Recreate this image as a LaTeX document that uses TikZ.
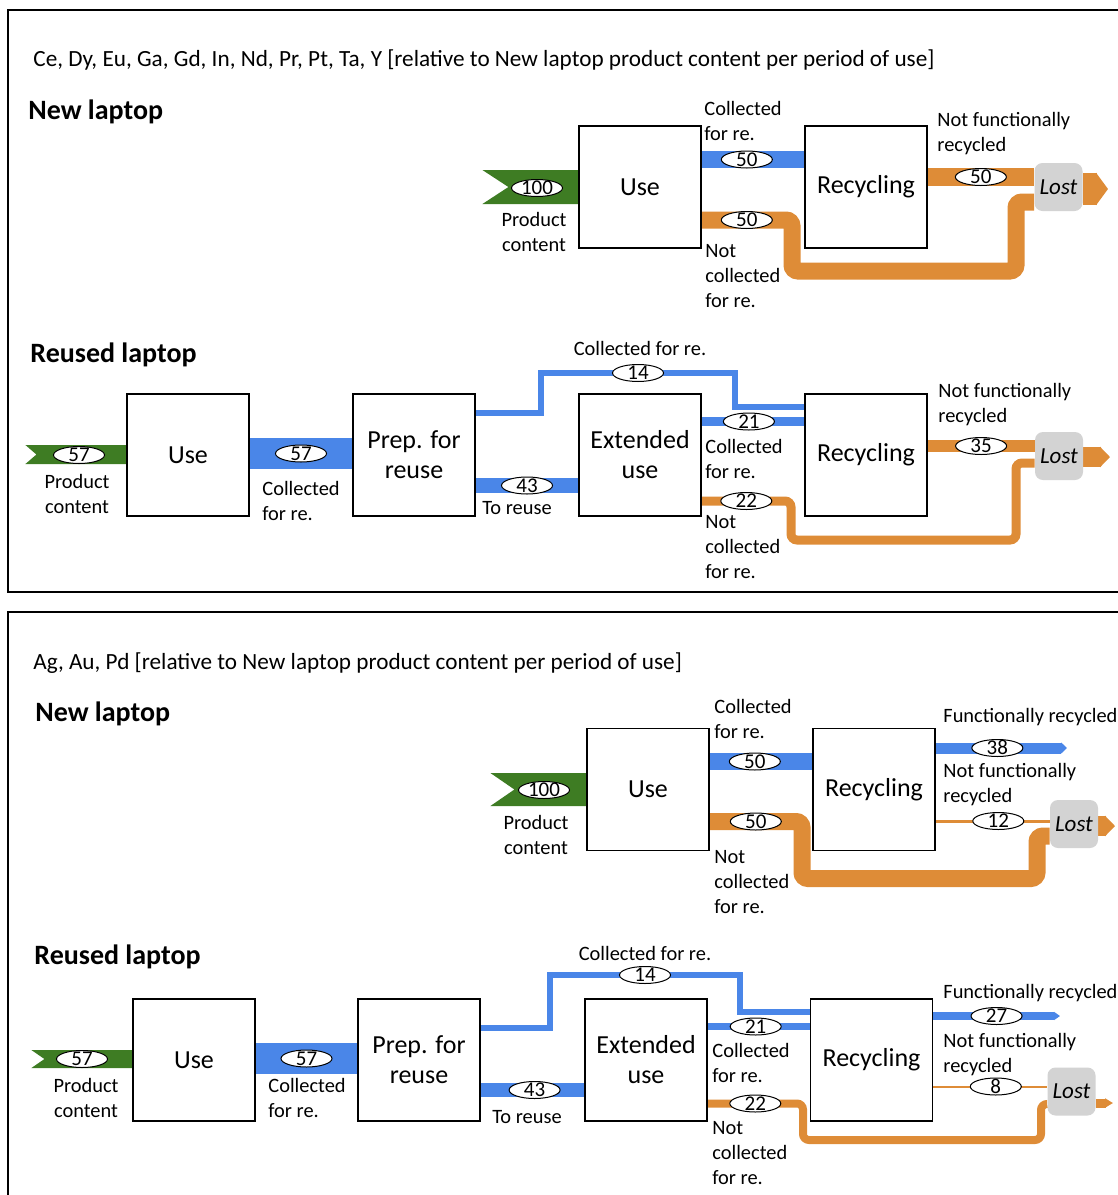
\documentclass[tikz,border=0pt]{standalone}
\usepackage{fontspec}
\setmainfont{Carlito}
\usepackage{xcolor}
\usepackage{tikz}
\usetikzlibrary{shapes.geometric, arrows.meta, backgrounds}
\definecolor{FlowGreen}{RGB}{62,124,35}
\definecolor{FlowBlue}{RGB}{74,134,232}
\definecolor{FlowOrange}{RGB}{222,140,55}
\definecolor{LostGray}{RGB}{211,211,211}
\tikzset{
    % Process (square box)
    process/.style={rectangle, draw=black, line width=0.6pt, fill=white,
        minimum width=61pt, minimum height=61pt, align=center,
        font=\fontsize{13}{15}\selectfont},
    % Lost sink (grey rounded box)
    lostbox/.style={rectangle, rounded corners=4pt, fill=LostGray,
        minimum width=24pt, minimum height=24pt, inner sep=0pt,
        font=\fontsize{11.5}{13}\selectfont\itshape},
    % Flow value (small ellipse)
    num/.style={ellipse, draw=black, line width=0.5pt, fill=white,
        minimum width=25.5pt, minimum height=8.5pt, inner xsep=0pt, inner ysep=-1.5pt,
        text height=6.6pt, text depth=0pt, font=\fontsize{10.5}{12}\selectfont},
    % Flow label
    flowlabel/.style={inner sep=0pt, align=left, font=\fontsize{10.2}{12.5}\selectfont},
    % Section heading
    heading/.style={inner sep=0pt, anchor=west, font=\fontsize{14}{16}\selectfont\bfseries},
    % Panel title line
    paneltitle/.style={inner sep=0pt, anchor=west, font=\fontsize{11.6}{13}\selectfont},
    % Flows
    inflow/.style={fill=FlowGreen},
    blueflow/.style={draw=FlowBlue},
    orangeflow/.style={draw=FlowOrange, rounded corners=3pt},
    panel/.style={draw=black, line width=1pt},
}

\begin{document}
\begin{tikzpicture}[x=0.5pt, y=-0.5pt]
    \useasboundingbox (0,0) rectangle (1118,1195);
    \clip (0,0) rectangle (1118,1195);

    % Panel frames
    \draw[panel] (8,10) rectangle (1140,592);
    \draw[panel] (8,612) rectangle (1140,1220);

    %%%%%%%% Panel 1: Ce, Dy, ...
    \node[paneltitle] (title1) at (33,60) {Ce, Dy, Eu, Ga, Gd, In, Nd, Pr, Pt, Ta, Y [relative to New laptop product content per period of use]};
    \node[heading] (new1) at (28,112) {New laptop};
    \node[heading] (reu1) at (30,355) {Reused laptop};

    % New laptop
    \node[process] (use1) at (640,187) {Use};
    \node[process] (recy1) at (866,187) {Recycling};
    \node[lostbox] (lost1) at (1058.5,187) {Lost};
    \begin{scope}[on background layer]
        \fill[inflow] (use1.west) ++(0,-17) -- ++(-96,0) -- ++(26,17) -- ++(-26,17) -- ++(96,0) -- cycle;
        \draw[blueflow, line width=8.5pt] (use1.east |- 0,159.5) -- node[num, pos=0.44] (v1a) {50} (recy1.west |- 0,159.5);
        \draw[orangeflow, line width=8.5pt] (use1.east |- 0,220) -- node[num] (v1b) {50} (792,220) -- (792,271) -- (1016,271) -- (1016,202) -- (lost1.west |- 0,202);
        \draw[orangeflow, line width=9pt] (recy1.east |- 0,177) -- node[num] (v1c) {50} (lost1.west |- 0,177);
        \draw[orangeflow, line width=16pt, -{Triangle[length=6pt, width=16pt]}] (lost1.east |- 0,189) -- (1108,189);
    \end{scope}
    \node[num] (v1in) at (537,188) {100};
    \node[flowlabel, align=center] (lb1a) at (534,231.5) {Product\\content};
    \node[flowlabel, anchor=west] (lb1b) at (704,120.5) {Collected\\for re.};
    \node[flowlabel, anchor=west] (lb1c) at (705,276) {Not\\collected\\for re.};
    \node[flowlabel, anchor=west] (lb1d) at (937,134) {Not functionally\\recycled};

    % Reused laptop
    \node[process] (use2) at (188,455) {Use};
    \node[process] (prep2) at (414,455) {Prep. for\\reuse};
    \node[process] (ext2) at (640,455) {Extended\\use};
    \node[process] (recy2) at (866,455) {Recycling};
    \node[lostbox] (lost2) at (1059,456) {Lost};
    \begin{scope}[on background layer]
        \fill[inflow] (use2.west |- 0,454.5) ++(0,-9.5) -- ++(-101,0) -- ++(11,9.5) -- ++(-11,9.5) -- ++(101,0) -- cycle;
        \draw[blueflow, line width=15.5pt] (use2.east |- 0,453.5) -- node[num] (v2b) {57} (prep2.west |- 0,453.5);
        \draw[blueflow, line width=3pt] (prep2.east |- 0,413) -- (541,413) -- (541,373) -- node[num] (v2c) {14} (735,373) -- (735,407) -- (recy2.west |- 0,407);
        \draw[blueflow, line width=7.5pt] (prep2.east |- 0,485.5) -- node[num] (v2d) {43} (ext2.west |- 0,485.5);
        \draw[blueflow, line width=4.5pt] (ext2.east |- 0,421.5) -- node[num, pos=0.46] (v2e) {21} (recy2.west |- 0,421.5);
        \draw[orangeflow, line width=4.5pt] (ext2.east |- 0,501) -- node[num] (v2f) {22} (791,501) -- (791,540) -- (1016,540) -- (1016,463) -- (lost2.west |- 0,463);
        \draw[orangeflow, line width=6pt] (recy2.east |- 0,446) -- node[num] (v2g) {35} (lost2.west |- 0,446);
        \draw[orangeflow, line width=10pt, -{Triangle[length=5pt, width=10pt]}] (lost2.east |- 0,457) -- (1110,457);
    \end{scope}
    \node[num] (v2in) at (79,455) {57};
    \node[flowlabel, align=center] (lb2a) at (77,493.5) {Product\\content};
    \node[flowlabel, anchor=west] (lb2b) at (262,501) {Collected\\for re.};
    \node[flowlabel] (lb2c) at (640,348) {Collected for re.};
    \node[flowlabel] (lb2d) at (517,508) {To reuse};
    \node[flowlabel, anchor=west] (lb2e) at (705,458.5) {Collected\\for re.};
    \node[flowlabel, anchor=west] (lb2f) at (705,547) {Not\\collected\\for re.};
    \node[flowlabel, anchor=west] (lb2g) at (938,404.5) {Not functionally\\recycled};

    %%%%%%%% Panel 2: Ag, Au, Pd
    \node[paneltitle] (title2) at (33,663) {Ag, Au, Pd [relative to New laptop product content per period of use]};
    \node[heading] (new2) at (35,714) {New laptop};
    \node[heading] (reu2) at (34,957) {Reused laptop};

    % New laptop
    \node[process] (use3) at (648,789.5) {Use};
    \node[process] (recy3) at (874,789.5) {Recycling};
    \node[lostbox] (lost3) at (1074,824) {Lost};
    \begin{scope}[on background layer]
        \fill[inflow] (use3.west) ++(0,-16.5) -- ++(-96,0) -- ++(24,16.5) -- ++(-24,16.5) -- ++(96,0) -- cycle;
        \draw[blueflow, line width=8.5pt] (use3.east |- 0,761.5) -- node[num, pos=0.44] (v3a) {50} (recy3.west |- 0,761.5);
        \draw[orangeflow, line width=8.5pt] (use3.east |- 0,821.5) -- node[num] (v3b) {50} (802,821.5) -- (802,878.5) -- (1037,878.5) -- (1037,836) -- (lost3.west |- 0,836);
        \draw[blueflow, line width=5.5pt, -{Triangle[length=3pt, width=5.5pt]}] (recy3.east |- 0,748) -- node[num, pos=0.47] (v3c) {38} (1067,748);
        \draw[orangeflow, line width=1.5pt] (recy3.east |- 0,821) -- node[num, pos=0.55] (v3d) {12} (lost3.west |- 0,821);
        \draw[orangeflow, line width=10pt, -{Triangle[length=5pt, width=10pt]}] (lost3.east |- 0,826) -- (1115,826);
    \end{scope}
    \node[num] (v3in) at (544,790) {100};
    \node[flowlabel, align=center] (lb3a) at (536,834.5) {Product\\content};
    \node[flowlabel, anchor=west] (lb3b) at (714,718.5) {Collected\\for re.};
    \node[flowlabel, anchor=west] (lb3c) at (714,882) {Not\\collected\\for re.};
    \node[flowlabel, anchor=west] (lb3d) at (943,717) {Functionally recycled};
    \node[flowlabel, anchor=west] (lb3e) at (943,784.5) {Not functionally\\recycled};

    % Reused laptop
    \node[process] (use4) at (194,1060) {Use};
    \node[process] (prep4) at (419,1060) {Prep. for\\reuse};
    \node[process] (ext4) at (646,1060) {Extended\\use};
    \node[process] (recy4) at (871.5,1060) {Recycling};
    \node[lostbox] (lost4) at (1071.5,1091.5) {Lost};
    \begin{scope}[on background layer]
        \fill[inflow] (use4.west |- 0,1059) ++(0,-9) -- ++(-101,0) -- ++(13,9) -- ++(-13,9) -- ++(101,0) -- cycle;
        \draw[blueflow, line width=15.5pt] (use4.east |- 0,1058.5) -- node[num] (v4b) {57} (prep4.west |- 0,1058.5);
        \draw[blueflow, line width=3pt] (prep4.east |- 0,1028) -- (550,1028) -- (550,975) -- node[num] (v4c) {14} (740,975) -- (740,1012) -- (recy4.west |- 0,1012);
        \draw[blueflow, line width=7pt] (prep4.east |- 0,1090) -- node[num, pos=0.52] (v4d) {43} (ext4.west |- 0,1090);
        \draw[blueflow, line width=3.5pt] (ext4.east |- 0,1026.5) -- node[num, pos=0.47] (v4e) {21} (recy4.west |- 0,1026.5);
        \draw[orangeflow, line width=4pt] (ext4.east |- 0,1103.5) -- node[num] (v4f) {22} (803,1103.5) -- (803,1140) -- (1041,1140) -- (1041,1104) -- (lost4.west |- 0,1104);
        \draw[blueflow, line width=4pt, -{Triangle[length=3pt, width=4pt]}] (recy4.east |- 0,1016) -- node[num] (v4g) {27} (1060,1016);
        \draw[orangeflow, line width=1pt] (recy4.east |- 0,1086.5) -- node[num, pos=0.55] (v4h) {8} (lost4.west |- 0,1086.5);
        \draw[orangeflow, line width=4.5pt, -{Triangle[length=4pt, width=4.5pt]}] (lost4.east |- 0,1103) -- (1113,1103);
    \end{scope}
    \node[num] (v4in) at (82,1059) {57};
    \node[flowlabel, align=center] (lb4a) at (86,1098) {Product\\content};
    \node[flowlabel, anchor=west] (lb4b) at (268,1098) {Collected\\for re.};
    \node[flowlabel] (lb4c) at (645,953) {Collected for re.};
    \node[flowlabel] (lb4d) at (527,1117) {To reuse};
    \node[flowlabel, anchor=west] (lb4e) at (712,1062.5) {Collected\\for re.};
    \node[flowlabel, anchor=west] (lb4f) at (712,1153) {Not\\collected\\for re.};
    \node[flowlabel, anchor=west] (lb4g) at (943,993) {Functionally recycled};
    \node[flowlabel, anchor=west] (lb4h) at (943,1054.5) {Not functionally\\recycled};
\end{tikzpicture}
\end{document}
